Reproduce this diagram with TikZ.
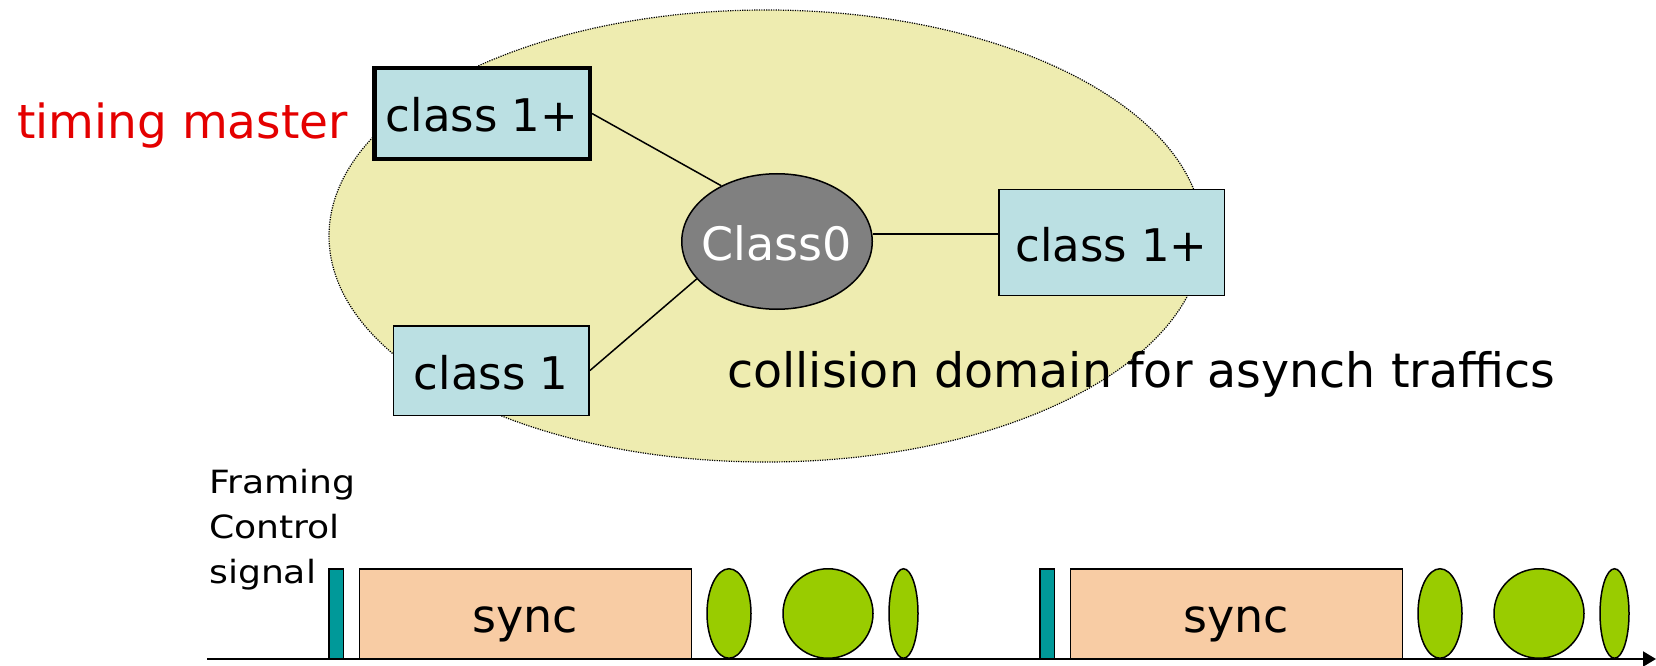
\documentclass[tikz,border=0pt]{standalone}
\usepackage{fontspec}
\setmainfont{DejaVu Sans}
\newfontfamily\widefont[FakeStretch=1.13]{DejaVu Sans}
\usetikzlibrary{shapes.geometric,arrows.meta}

\definecolor{domainfill}{RGB}{238,236,176}
\definecolor{boxfill}{RGB}{187,224,227}
\definecolor{hubfill}{RGB}{128,128,128}
\definecolor{syncfill}{RGB}{248,204,164}
\definecolor{asyncfill}{RGB}{153,204,0}
\definecolor{ctrlfill}{RGB}{0,153,153}
\definecolor{mastercol}{RGB}{228,0,0}

\tikzset{
  bigtext/.style={font=\fontsize{45bp}{54bp}\selectfont},
  centred/.style={text height=37bp, text depth=0pt},
  stationbox/.style={draw=black, line width=1.5bp, fill=boxfill, inner sep=0pt, bigtext, centred},
  hub/.style={ellipse, draw=black, line width=1.5bp, fill=hubfill, inner sep=0pt},
  link/.style={line width=1.5bp},
  slot/.style={draw=black, line width=1.5bp, inner sep=0pt, minimum height=89.5bp},
  burst/.style={ellipse, draw=black, line width=1.5bp, fill=asyncfill, inner sep=0pt, minimum height=89.5bp},
}

\begin{document}
\begin{tikzpicture}[x=1bp, y=-1bp]
\useasboundingbox (0,0) rectangle (1656,666);

% collision domain
\node[ellipse, draw=black, line width=1.2bp, dash pattern=on 1.2bp off 1.2bp, fill=domainfill,
      minimum width=874bp, minimum height=452bp, inner sep=0pt] (domain) at (766,236) {};

% stations and the class 0 hub
\node[stationbox, line width=4.5bp, minimum width=215.5bp, minimum height=90.5bp] (tm) at (482,113.5) {class 1+};
\node[stationbox, minimum width=225.5bp, minimum height=105.5bp] (r1) at (1111.5,242.5) {class 1+};
\node[stationbox, minimum width=195.8bp, minimum height=89.5bp] (s1) at (491.3,370.5) {class 1};
\node[hub, minimum width=190.5bp, minimum height=135.5bp] (c0) at (777,241.5) {};
\node[text=white, inner sep=0pt, font=\fontsize{46bp}{55bp}\selectfont, centred] (c0t) at (c0.center) {Class0};

\draw[link] (tm.east) -- (c0.135);
\draw[link] (s1.east) -- (c0.205);
\draw[link] ([yshift=7.5bp]c0.east) -- ([yshift=7.5bp]c0.east -| r1.west);

% labels
\node[anchor=base west, inner sep=0pt, text=mastercol, font=\fontsize{47bp}{56bp}\selectfont] (tmlabel) at (17,139) {timing master};
\node[anchor=base west, inner sep=0pt, font=\fontsize{47.5bp}{57bp}\selectfont] (domlabel) at (727,387) {collision domain for asynch traffics};

% time axis
\coordinate (t0) at (207,659);
\coordinate (tend) at (1656,659);
\draw[line width=2bp, -{Triangle[length=13bp,width=15bp]}] (t0) -- (tend);

\node[anchor=north west, align=left, inner sep=0pt, font=\widefont\fontsize{32bp}{45bp}\selectfont] (fcs) at (209,468.7) {Framing\\Control\\signal};

% two superframes
\foreach \o/\k in {0/1, 711/2} {
  \node[slot, fill=ctrlfill, minimum width=14.5bp] (fc\k) at (336+\o,613.5) {};
  \node[slot, fill=syncfill, minimum width=332bp, font=\fontsize{46bp}{55bp}\selectfont, centred] (sync\k) at (525.3+\o,613.5) {sync};
  \node[burst, minimum width=44bp] (aa\k) at (729+\o,613.5) {};
  \node[burst, minimum width=90bp] (ab\k) at (828+\o,613.5) {};
  \node[burst, minimum width=29bp] (ac\k) at (903.5+\o,613.5) {};
}
\end{tikzpicture}
\end{document}
